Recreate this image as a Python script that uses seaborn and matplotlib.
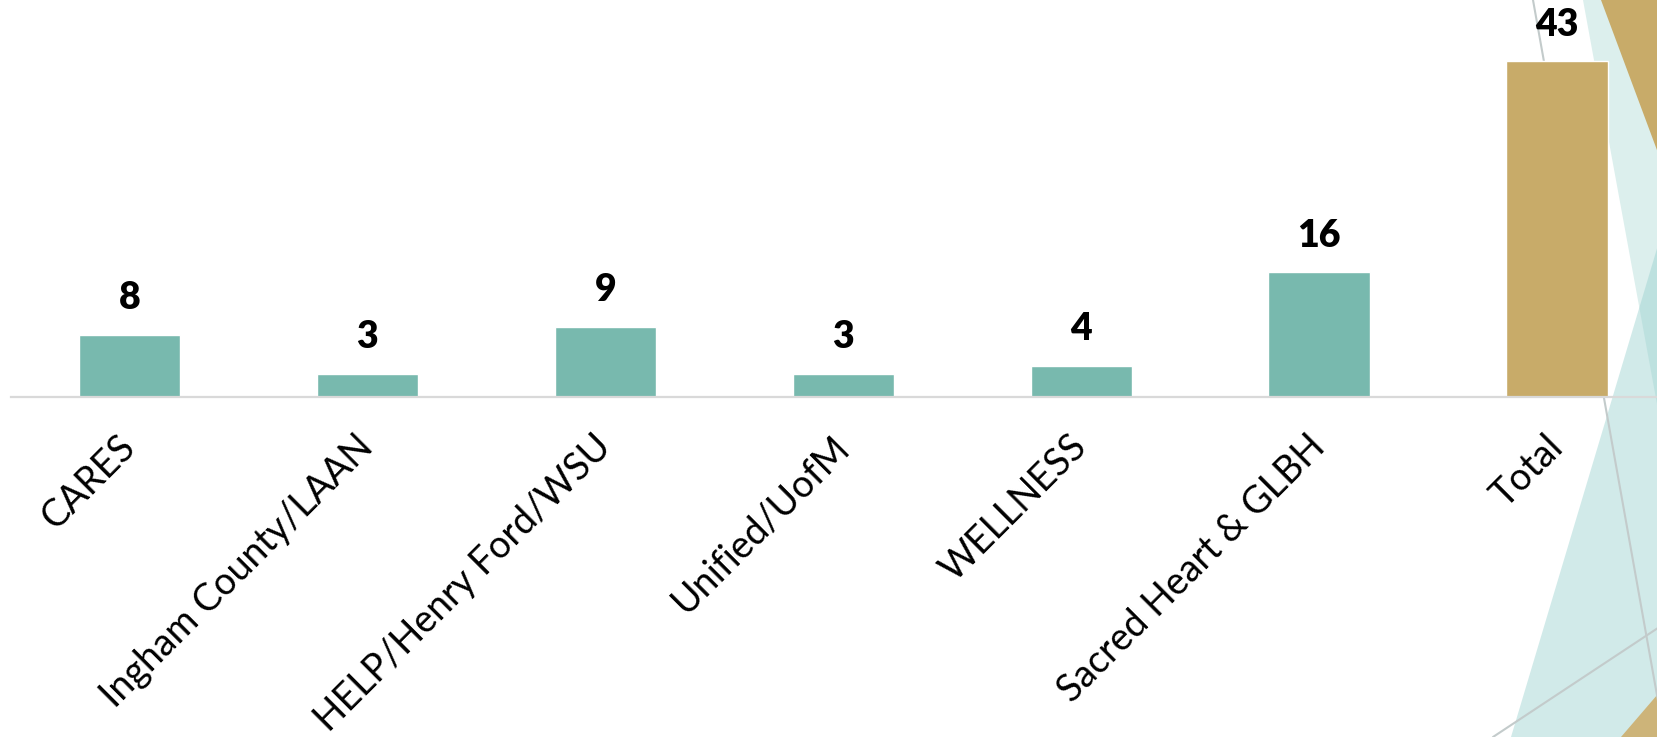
import matplotlib
matplotlib.use("Agg")
import matplotlib.pyplot as plt
from matplotlib.patches import Polygon
from matplotlib.lines import Line2D
import seaborn as sns

# === Data ===
programs = ["CARES", "Ingham County/LAAN", "HELP/Henry Ford/WSU", "Unified/UofM",
            "WELLNESS", "Sacred Heart & GLBH", "Total"]
counts = [8, 3, 9, 3, 4, 16, 43]
bar_colors = ["#78b9ae"] * 6 + ["#c8ab69"]

sns.set_style("white")
plt.rcParams["font.family"] = ["Lato", "DejaVu Sans"]

W, H = 1658, 737
fig = plt.figure(figsize=(W / 100, H / 100), dpi=100)
fig.patch.set_facecolor("white")


# === Slide template decoration (pixel coords -> figure fraction) ===
def px(points):
    return [(x / W, 1 - y / H) for x, y in points]


def add_poly(points, color, alpha=1.0):
    fig.add_artist(Polygon(px(points), closed=True, facecolor=color, edgecolor="none",
                           alpha=alpha, transform=fig.transFigure, zorder=-5))


def add_line(points, color="#c3cbcb", lw=1.5):
    p = px(points)
    fig.add_artist(Line2D([p[0][0], p[1][0]], [p[0][1], p[1][1]], color=color, lw=lw,
                          transform=fig.transFigure, zorder=-4))


add_poly([(1583, 0), (1670, 0), (1670, 475)], "#dcefed")
add_poly([(1511, 737), (1670, 205), (1670, 737)], "#99d1cf", alpha=0.45)
add_poly([(1601, 0), (1670, 0), (1670, 185)], "#c8ab69")
add_poly([(1621, 737), (1670, 680), (1670, 737)], "#cdb479")
add_line([(1533, 0), (1660, 712)])
add_line([(1493, 737), (1670, 620)])

# === Chart ===
ax = fig.add_axes([10.6 / W, 1 - 397 / H, 1665.3 / W, 390.5 / H])
ax.patch.set_alpha(0)

sns.barplot(x=programs, y=counts, hue=programs, palette=bar_colors, width=0.425,
            legend=False, saturation=1, ax=ax)

for c in ax.containers:
    ax.bar_label(c, padding=14, fontsize=27, fontweight="heavy", color="black", clip_on=False)

ax.set_xlim(-0.5, 6.5)
ax.set_ylim(0, 50)
ax.set_yticks([])
ax.set_xlabel("")
ax.set_ylabel("")
ax.set_xticks(range(len(programs)), labels=programs, rotation=45, ha="right",
              va="center", rotation_mode="anchor", fontsize=27, color="black")
ax.tick_params(axis="x", length=0, pad=32)

for side in ["top", "left", "right"]:
    ax.spines[side].set_visible(False)
ax.spines["bottom"].set_color("#d9d9d9")
ax.spines["bottom"].set_linewidth(1.6)

plt.savefig("out.png", dpi=100, facecolor="white")
